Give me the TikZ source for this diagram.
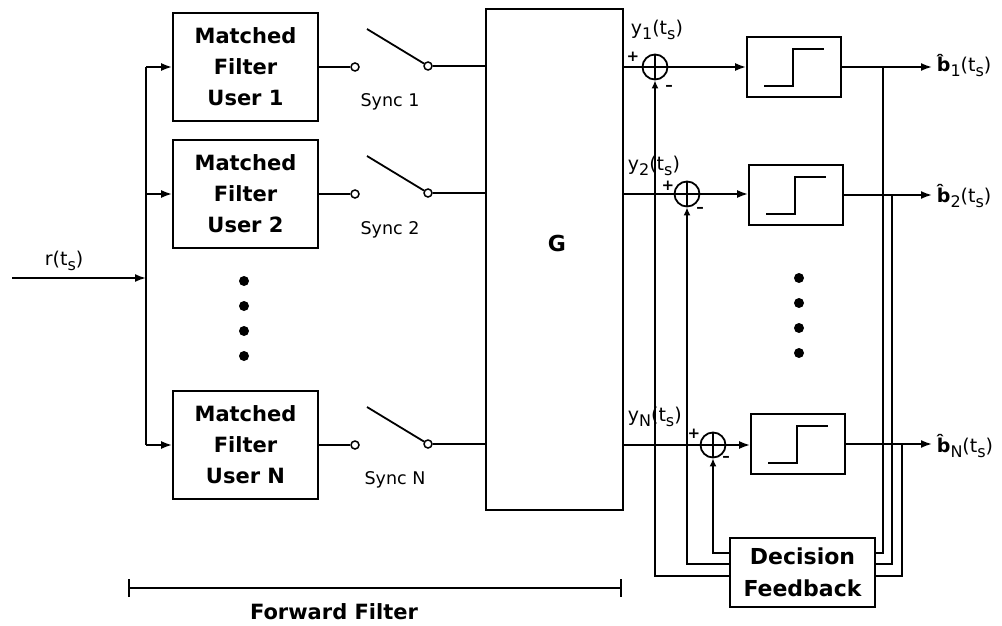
\documentclass[tikz,border=0pt]{standalone}
\usepackage{fontspec}
\setmainfont{DejaVu Sans}
\usetikzlibrary{arrows.meta,calc}
\newcommand\mysb[1]{\raisebox{-5pt}{\fontsize{16}{16}\selectfont #1}}
\begin{document}
\begin{tikzpicture}[x=1pt,y=-1pt,
  line width=1.8pt,
  >={Latex[length=11pt,width=8pt]},
  mfbox/.style={draw, minimum width=145pt, minimum height=108pt, inner sep=0pt, align=center, font=\fontsize{21}{31}\selectfont\bfseries},
  decbox/.style={draw, minimum width=94pt, minimum height=60pt, inner sep=0pt},
  sumnode/.style={circle, draw, minimum size=25pt, inner sep=0pt, path picture={\draw (path picture bounding box.north) -- (path picture bounding box.south) (path picture bounding box.west) -- (path picture bounding box.east);}},
  term/.style={circle, draw, fill=white, minimum size=8pt, inner sep=0pt, line width=1.5pt},
  sig/.style={font=\fontsize{19}{19}\selectfont, inner sep=0pt, anchor=base west},
  sgn/.style={font=\fontsize{15}{15}\selectfont\bfseries, inner sep=1pt},
  syncl/.style={font=\fontsize{17.5}{17.5}\selectfont, inner sep=0pt},
  dotn/.style={circle, fill, minimum size=10pt, inner sep=0pt},
  fbtip/.style={-{Latex[length=8pt,width=7pt]}}
]
\useasboundingbox (0,0) rectangle (1002,626);

% input and bus
\coordinate (in) at (12,278);
\coordinate (busin) at (146,278);
\coordinate (bus1) at (146,67);
\coordinate (bus2) at (146,194);
\coordinate (busN) at (146,445);
\draw[->] (in) -- (busin);
\draw (bus1) -- (busN);
\node[sig] (rlab) at (44,265) {r(t\mysb{s})};

% matched filters
\node[mfbox] (mf1) at (245.5,67) {Matched\\Filter\\User 1};
\node[mfbox] (mf2) at (245.5,194) {Matched\\Filter\\User 2};
\node[mfbox] (mfN) at (245.5,445) {Matched\\Filter\\User N};
\draw[->] (bus1) -- (mf1);
\draw[->] (bus2) -- (mf2);
\draw[->] (busN) -- (mfN);

\foreach \yy in {281,306,331,356} \node[dotn] at (244,\yy) {};

% G
\node[draw, minimum width=137pt, minimum height=501pt, inner sep=0pt] (G) at (554.5,259.5) {};
\node[font=\fontsize{22}{22}\selectfont\bfseries] (Glab) at (557,243) {G};

% switches
\node[term] (a1) at (355,67) {};
\node[term] (b1) at (428,66) {};
\coordinate (k1) at (367,29);
\draw (mf1) -- (a1);
\draw (k1) -- (b1);
\draw (b1) -- (b1 -| G.west);
\node[syncl] (sy1) at (390,102) {Sync 1};

\node[term] (a2) at (355,194) {};
\node[term] (b2) at (428,193) {};
\coordinate (k2) at (367,156);
\draw (mf2) -- (a2);
\draw (k2) -- (b2);
\draw (b2) -- (b2 -| G.west);
\node[syncl] (sy2) at (390,230) {Sync 2};

\node[term] (aN) at (355,445) {};
\node[term] (bN) at (428,444) {};
\coordinate (kN) at (367,407);
\draw (mfN) -- (aN);
\draw (kN) -- (bN);
\draw (bN) -- (bN -| G.west);
\node[syncl] (syN) at (395,480) {Sync N};

% summing junctions
\node[sumnode] (s1) at (655,67) {};
\node[sumnode] (s2) at (687,194) {};
\node[sumnode] (sN) at (713,445) {};
\draw (s1 -| G.east) -- (s1);
\draw (s2 -| G.east) -- (s2);
\draw (sN -| G.east) -- (sN);
\node[sig] (y1) at (630,35) {y\mysb{1}(t\mysb{s})};
\node[sig] (y2) at (627,170) {y\mysb{2}(t\mysb{s})};
\node[sig] (yN) at (627,421) {y\mysb{N}(t\mysb{s})};
\node[sgn] (p1) at (633,57) {+};
\node[sgn] (m1) at (669,88) {–};
\node[sgn] (p2) at (668,186) {+};
\node[sgn] (m2) at (700,210) {–};
\node[sgn] (pN) at (694,434) {+};
\node[sgn] (mN) at (726,459) {–};

% decision devices
\node[decbox] (d1) at (794,67) {};
\node[decbox] (d2) at (796,195) {};
\node[decbox] (dN) at (798,444) {};
\draw[->] (s1) -- (d1);
\draw[->] (s2) -- (s2 -| d2.west);
\draw[->] (sN) -- (sN -| dN.west);
\foreach \d in {d1,d2,dN}
  \draw ([shift={(-30,19)}]\d.center) -- ++(29,0) -- ++(0,-37) -- ++(31,0);

\foreach \yy in {278,303,328,353} \node[dotn] at (799,\yy) {};

% outputs
\coordinate (o1) at (932,67);
\coordinate (o2) at (932,195);
\coordinate (oN) at (932,444);
\draw[->] (d1) -- (o1);
\draw[->] (d2) -- (o2);
\draw[->] (dN) -- (oN);
\node[sig] (bl1) at (936,72) {\textbf{\^{b}}\mysb{1}(t\mysb{s})};
\node[sig] (bl2) at (936,202) {\textbf{\^{b}}\mysb{2}(t\mysb{s})};
\node[sig] (blN) at (936,452) {\textbf{\^{b}}\mysb{N}(t\mysb{s})};

% decision feedback
\coordinate (t1) at (883,67);
\coordinate (t2) at (892,195);
\coordinate (tN) at (902,444);
\node[draw, minimum width=145pt, minimum height=69pt, align=center, inner sep=0pt, font=\fontsize{22}{32}\selectfont\bfseries] (df) at (802.5,572.5) {Decision\\Feedback};
\draw (t1) |- ([yshift=19.5pt]df.east);
\draw (t2) |- ([yshift=8.5pt]df.east);
\draw (tN) |- ([yshift=-3.5pt]df.east);
\draw[fbtip] ([yshift=19.5pt]df.west) -| (sN.south);
\draw[fbtip] ([yshift=8.5pt]df.west) -| (s2.south);
\draw[fbtip] ([yshift=-3.5pt]df.west) -| (s1.south);

% forward filter bar
\coordinate (ff1) at (128,588);
\coordinate (ff2) at (622,588);
\draw[{Bar[width=18pt]}-{Bar[width=18pt]}, line width=2.4pt] (ff1) -- (ff2);
\node[font=\fontsize{21}{21}\selectfont\bfseries] (fflab) at (334,612) {Forward Filter};
\end{tikzpicture}
\end{document}
